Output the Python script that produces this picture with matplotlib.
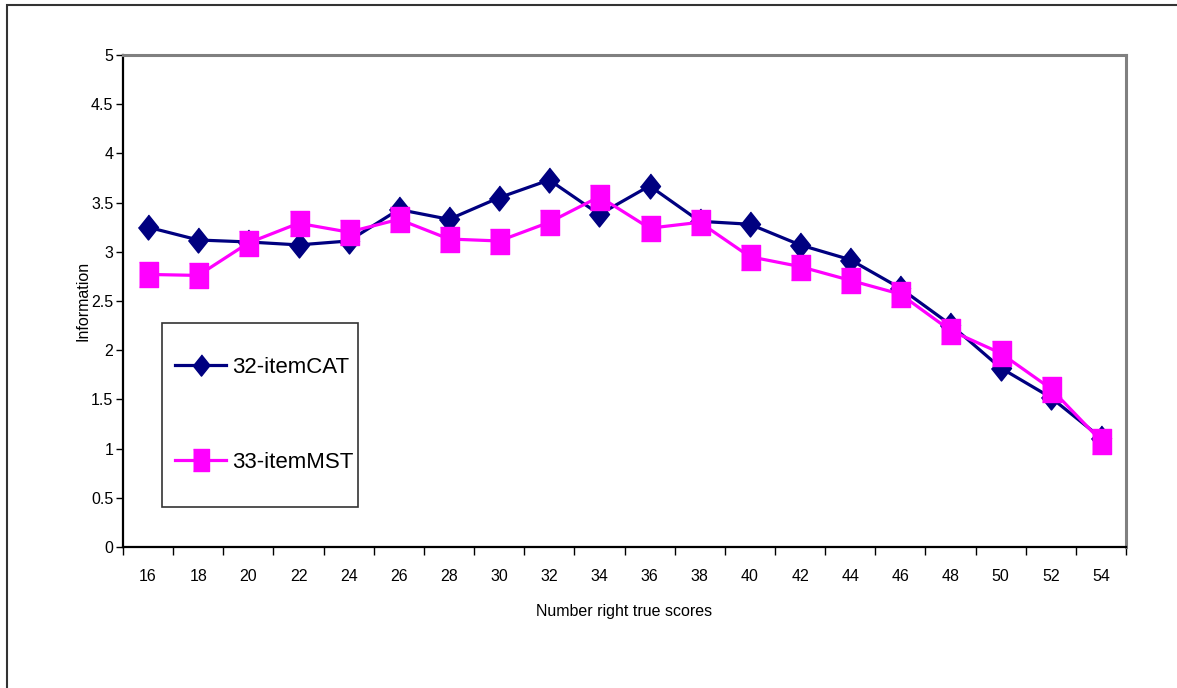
import matplotlib
matplotlib.use("Agg")
import matplotlib.pyplot as plt
from matplotlib.patches import Rectangle

plt.rcParams['font.family'] = ['Liberation Sans', 'DejaVu Sans']

scores = [16, 18, 20, 22, 24, 26, 28, 30, 32, 34, 36, 38, 40, 42, 44, 46, 48, 50, 52, 54]
cat_info = [3.25, 3.12, 3.10, 3.07, 3.11, 3.43, 3.33, 3.55, 3.73, 3.38, 3.67,
            3.31, 3.28, 3.07, 2.92, 2.63, 2.26, 1.82, 1.52, 1.11]
mst_info = [2.77, 2.76, 3.09, 3.29, 3.20, 3.33, 3.13, 3.11, 3.30, 3.56, 3.24,
            3.30, 2.95, 2.85, 2.71, 2.57, 2.20, 1.97, 1.61, 1.08]
y_ticks = [0, 0.5, 1, 1.5, 2, 2.5, 3, 3.5, 4, 4.5, 5]
y_tick_labels = ['0', '0.5', '1', '1.5', '2', '2.5', '3', '3.5', '4', '4.5', '5']

W, H = 1177, 688
fig = plt.figure(figsize=(W / 100, H / 100), dpi=100)

# outer chart border (only top and left edges fall inside the image)
fig.patches.append(Rectangle((7 / W, -0.05), 1.1, 0.05 + 1 - 5 / H,
                             transform=fig.transFigure, fill=False,
                             edgecolor='#333333', linewidth=1.5))

ax = fig.add_axes([123 / W, 1 - 547 / H, (1126 - 123) / W, (547 - 55) / H])

diamond = [(0, 1), (0.8, 0), (0, -1), (-0.8, 0)]
rect = [(-0.76, -1), (0.76, -1), (0.76, 1), (-0.76, 1)]

pos = list(range(len(scores)))
ax.plot(pos, cat_info, color='#000080', linewidth=2.3, marker=diamond,
        markersize=18, markerfacecolor='#000080', markeredgecolor='#000080',
        label='32-itemCAT', zorder=3)
ax.plot(pos, mst_info, color='#FF00FF', linewidth=2.3, marker=rect,
        markersize=18, markerfacecolor='#FF00FF', markeredgecolor='#FF00FF',
        label='33-itemMST', zorder=4)

ax.set_xlim(-0.5, len(scores) - 0.5)
ax.set_ylim(0, 5)

# category ticks sit between categories, labels at category centers
ax.set_xticks([p - 0.5 for p in range(len(scores) + 1)])
ax.set_xticklabels([])
ax.set_xticks(pos, minor=True)
ax.set_xticklabels([str(s) for s in scores], minor=True, fontsize=11.5)
ax.tick_params(axis='x', which='major', direction='out', length=6, width=1, color='black')
ax.tick_params(axis='x', which='minor', length=0, pad=16)

ax.set_yticks(y_ticks)
ax.set_yticklabels(y_tick_labels, fontsize=11.5)
ax.tick_params(axis='y', direction='out', length=5, width=1, pad=2, color='black')

for side in ('top', 'right'):
    ax.spines[side].set_color('#808080')
    ax.spines[side].set_linewidth(2.2)
for side in ('left', 'bottom'):
    ax.spines[side].set_color('black')
    ax.spines[side].set_linewidth(1.6)

ax.set_ylabel('Information', fontsize=11.5, labelpad=0)
ax.set_xlabel('Number right true scores', fontsize=11.5, labelpad=14)

# legend box drawn as its own frame; entries placed inside it
ax.add_patch(Rectangle((162 / W, 1 - 507 / H), (358 - 162) / W, (507 - 323) / H,
                       transform=fig.transFigure, fill=True, facecolor='white',
                       edgecolor='#333333', linewidth=1.2, zorder=5, clip_on=False))
leg = ax.legend(loc='center left', bbox_to_anchor=(175 / W, 1 - 415 / H),
                bbox_transform=fig.transFigure, fontsize=16, frameon=False,
                handlelength=2.3, handletextpad=0.25, labelspacing=3.35,
                borderpad=0, borderaxespad=0, markerscale=0.85)
leg.set_zorder(6)

fig.savefig('out.png', dpi=100)
